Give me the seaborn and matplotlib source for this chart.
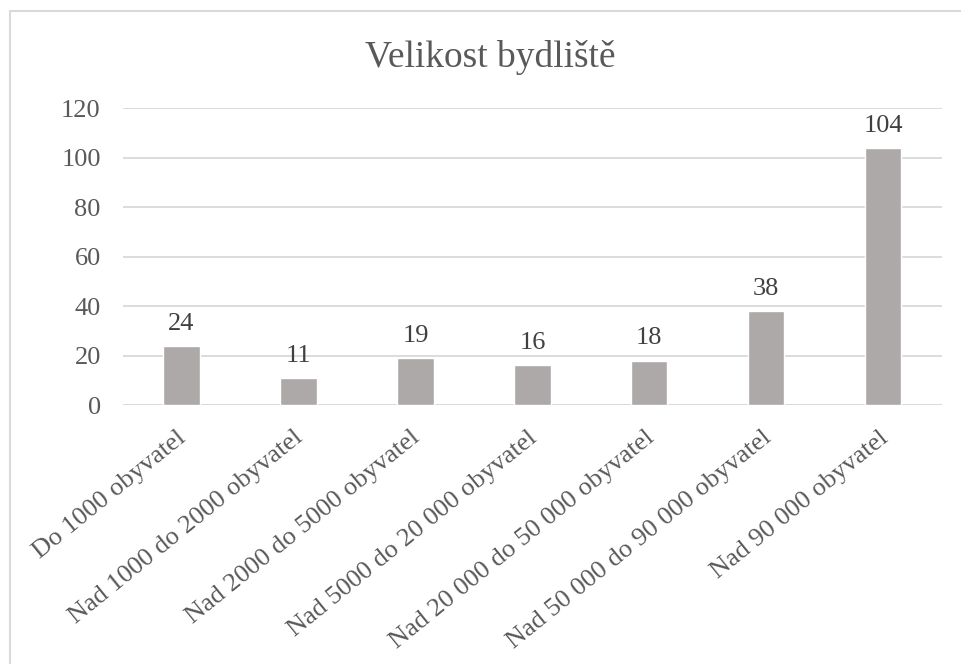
import matplotlib
matplotlib.use("Agg")
import matplotlib.pyplot as plt
import matplotlib.transforms as mtransforms
import seaborn as sns
import pandas as pd
from matplotlib.patches import Rectangle

# Data
categories = [
    "Do 1000 obyvatel",
    "Nad 1000 do 2000 obyvatel",
    "Nad 2000 do 5000 obyvatel",
    "Nad 5000 do 20 000 obyvatel",
    "Nad 20 000 do 50 000 obyvatel",
    "Nad 50 000 do 90 000 obyvatel",
    "Nad 90 000 obyvatel",
]
counts = [24, 11, 19, 16, 18, 38, 104]
yticks = [0, 20, 40, 60, 80, 100, 120]

df = pd.DataFrame({"kategorie": categories, "pocet": counts})

sns.set_style("white")
plt.rcParams["font.family"] = ["Liberation Serif", "DejaVu Serif"]

fig = plt.figure(figsize=(9.61, 6.64), dpi=100)
ax = fig.add_axes([0.128, 0.390, 0.852, 0.447])

sns.barplot(data=df, x="kategorie", y="pocet", color="#ada9a8",
            width=0.31, saturation=1, ax=ax)

# value labels above bars
for i, v in enumerate(counts):
    ax.annotate(str(v), (i, v), xytext=(0, 8), textcoords="offset points",
                ha="center", va="bottom", fontsize=19, color="#404040")

ax.set_ylim(0, 120)
ax.set_yticks(yticks)
ax.yaxis.grid(True, color="#d9d9d9", linewidth=1.3)
ax.set_axisbelow(True)
for s in ax.spines.values():
    s.set_visible(False)
ax.axhline(0, color="#d9d9d9", linewidth=1.3, zorder=0)

ax.set_xlabel("")
ax.set_ylabel("")
ax.tick_params(axis="both", length=0, labelsize=19, labelcolor="#595959")
ax.tick_params(axis="y", pad=16)
ax.set_xticks(range(len(categories)))
ax.set_xticklabels(categories, rotation=39, ha="right", va="top",
                   rotation_mode="anchor")
ax.tick_params(axis="x", pad=15.5)
shift = mtransforms.ScaledTranslation(-5 / 100, 0, fig.dpi_scale_trans)
for lbl in ax.get_xticklabels():
    lbl.set_transform(lbl.get_transform() + shift)

fig.text(490 / 961, 0.914, "Velikost bydliště", ha="center", va="center",
         fontsize=27, color="#595959")

# chart border (top and left edges visible)
fig.patches.append(Rectangle((10 / 961, -0.05), 1.0, 1.05 - 11 / 664,
                             transform=fig.transFigure, fill=False,
                             edgecolor="#d9d9d9", linewidth=1.5))

fig.savefig("out.png", dpi=100)
